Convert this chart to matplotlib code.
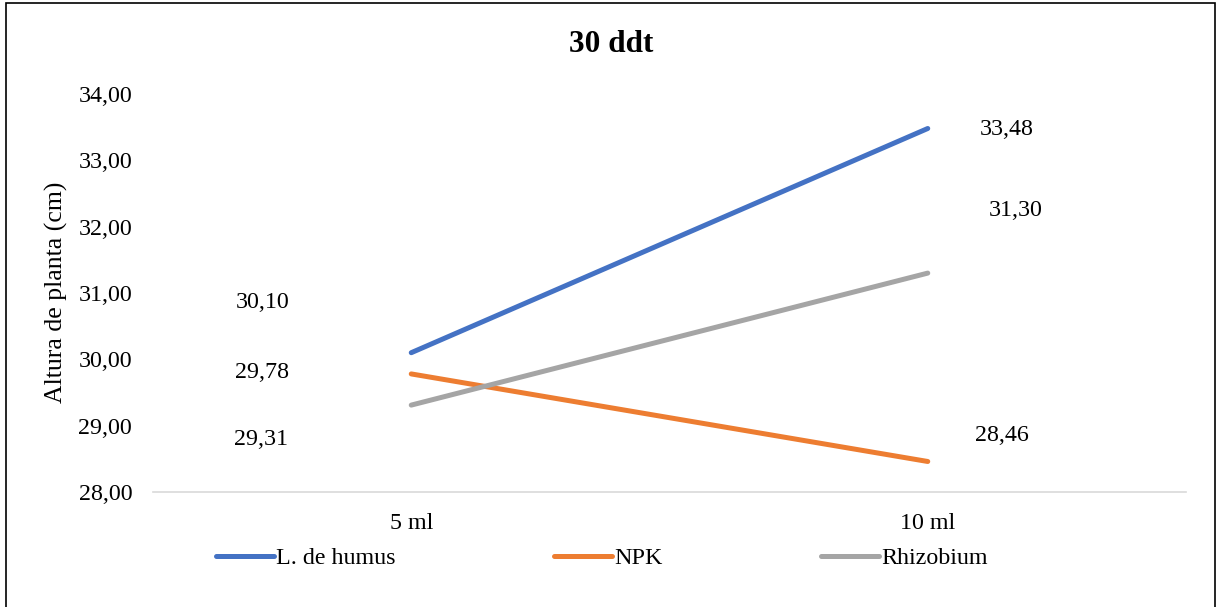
import matplotlib
matplotlib.use("Agg")
import matplotlib.pyplot as plt
from matplotlib.ticker import FuncFormatter, MultipleLocator
from matplotlib.patches import Rectangle

categories = ["5 ml", "10 ml"]
series_names = ["L. de humus", "NPK", "Rhizobium"]
humus = [30.10, 33.48]
npk = [29.78, 28.46]
rhizobium = [29.31, 31.30]
title = "30 ddt"
ylabel = "Altura de planta (cm)"

colors = ["#4472C4", "#ED7D31", "#A5A5A5"]
# label offsets in pixels (dx, dy) for [5 ml, 10 ml]
label_offsets = [
    [(-149, 50), (79, -1)],
    [(-149, 1), (74, 26)],
    [(-150, -34), (88, 63)],
]

FS = 17.3
plt.rcParams['font.family'] = ['Liberation Serif', 'DejaVu Serif']

fig = plt.figure(figsize=(12.16, 6.07), dpi=100)
ax = fig.add_axes([153/1216, 1-492/607, (1186-153)/1216, (492-94)/607])

x = list(range(len(categories)))
all_series = [humus, npk, rhizobium]
lines = []
for vals, name, c, offs in zip(all_series, series_names, colors, label_offsets):
    ln, = ax.plot(x, vals, color=c, lw=3.6, solid_capstyle='round', label=name)
    lines.append(ln)
    for xi, v, (dx, dy) in zip(x, vals, offs):
        ax.annotate(f"{v:.2f}".replace('.', ','), (xi, v), xytext=(dx, dy),
                    textcoords='offset pixels', ha='center', va='center', fontsize=FS)

ax.set_xlim(-0.5, 1.5)
ax.set_ylim(28, 34)
ax.yaxis.set_major_locator(MultipleLocator(1))
ax.yaxis.set_major_formatter(FuncFormatter(lambda v, p: f"{v:.2f}".replace('.', ',')))
ax.set_xticks(x)
ax.set_xticklabels(categories)
ax.tick_params(axis='both', length=0, labelsize=FS)
ax.tick_params(axis='y', pad=15)
ax.tick_params(axis='x', pad=15)
for s in ['top', 'right', 'left']:
    ax.spines[s].set_visible(False)
ax.spines['bottom'].set_color('#D9D9D9')
ax.spines['bottom'].set_linewidth(1.2)

fig.text(611/1216, 1-44/607, title, ha='center', va='center', fontsize=22.5, fontweight='bold')
fig.text(56/1216, 1-292/607, ylabel, ha='center', va='center', rotation=90, fontsize=18.5)

leg = fig.legend(handles=lines, loc='center left', bbox_to_anchor=(216/1216, 1-558/607),
                 ncol=3, frameon=False, fontsize=FS, handlelength=2.4,
                 handletextpad=0.1, columnspacing=6.6, borderpad=0, borderaxespad=0)

fig.add_artist(Rectangle((6/1216, -0.01), (1215-6)/1216, 1-3/607+0.01, transform=fig.transFigure,
                         fill=False, edgecolor='black', lw=1.2))

fig.savefig("out.png", dpi=100)
